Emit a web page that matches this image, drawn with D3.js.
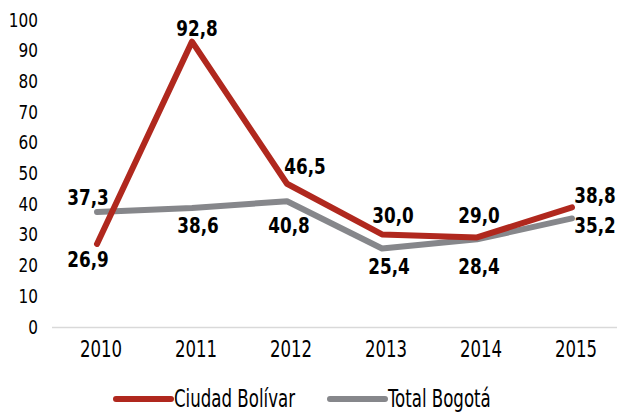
<!DOCTYPE html>
<html>
<head>
<meta charset="utf-8">
<script src="https://cdn.jsdelivr.net/npm/d3@7"></script>
<style>
  body { margin: 0; background: #fff; }
  svg text { font-family: "DejaVu Sans Condensed", "DejaVu Sans", sans-serif; font-stretch: condensed; fill: #000; }
</style>
</head>
<body>
<svg id="chart" width="626" height="413"></svg>
<script>
const years = ["2010", "2011", "2012", "2013", "2014", "2015"];
const ciudadBolivar = [26.9, 92.8, 46.5, 30.0, 29.0, 38.8];
const totalBogota = [37.3, 38.6, 40.8, 25.4, 28.4, 35.2];
const yTicks = [0, 10, 20, 30, 40, 50, 60, 70, 80, 90, 100];

// label placement offsets (px) around each point
const redOffsets = [[-9, 15.5], [5, -13], [18, -17], [11, -19], [2, -22], [23, -12]];
const grayOffsets = [[-9, -14.5], [6, 17], [2, 24], [7, 17.5], [2, 27], [23, 7]];

const red = "#b0281e", gray = "#86878b";
const svg = d3.select("#chart");

let x = d3.scalePoint().domain(years).range([97, 572]);
let y = d3.scaleLinear().domain([0, 100]).range([326.5, 19.5]);

// squeeze glyphs horizontally to mimic a condensed face
function squeeze(sel, k) {
  sel.each(function () {
    let w = this.getComputedTextLength();
    d3.select(this).attr("textLength", w * k).attr("lengthAdjust", "spacingAndGlyphs");
  });
}

// baseline
svg.append("line")
  .attr("x1", 52).attr("x2", 617)
  .attr("y1", 327.5).attr("y2", 327.5)
  .attr("stroke", "#d9d9d9").attr("stroke-width", 1.5);

// y tick labels
svg.selectAll(".ytick")
  .data(yTicks)
  .join("text")
  .attr("class", "ytick")
  .attr("x", 38)
  .attr("y", d => y(d))
  .attr("dy", "0.35em")
  .attr("text-anchor", "end")
  .style("font-size", "20px")
  .text(d => d)
  .call(squeeze, 0.85);

// x tick labels
svg.selectAll(".xtick")
  .data(years)
  .join("text")
  .attr("class", "xtick")
  .attr("x", d => x(d) + 4)
  .attr("y", 349)
  .attr("dy", "0.35em")
  .attr("text-anchor", "middle")
  .style("font-size", "23px")
  .text(d => d)
  .call(squeeze, 0.8);

let line = d3.line()
  .x((d, i) => x(years[i]))
  .y(d => y(d));

svg.append("path")
  .datum(totalBogota)
  .attr("d", line)
  .attr("fill", "none")
  .attr("stroke", gray)
  .attr("stroke-width", 6)
  .attr("stroke-linejoin", "round")
  .attr("stroke-linecap", "round");

svg.append("path")
  .datum(ciudadBolivar)
  .attr("d", line)
  .attr("fill", "none")
  .attr("stroke", red)
  .attr("stroke-width", 6)
  .attr("stroke-linejoin", "round")
  .attr("stroke-linecap", "round");

const fmt = v => v.toFixed(1).replace(".", ",");

function labels(values, offsets, cls) {
  svg.selectAll("." + cls)
    .data(values)
    .join("text")
    .attr("class", cls)
    .attr("x", (d, i) => x(years[i]) + offsets[i][0])
    .attr("y", (d, i) => y(d) + offsets[i][1])
    .attr("dy", "0.35em")
    .attr("text-anchor", "middle")
    .style("font-size", "22px")
    .style("font-weight", "bold")
    .text(fmt)
    .call(squeeze, 0.85);
}
labels(ciudadBolivar, redOffsets, "lab-red");
labels(totalBogota, grayOffsets, "lab-gray");

// legend
const legend = [
  { name: "Ciudad Bolívar", color: red, x: 116 },
  { name: "Total Bogotá", color: gray, x: 330 }
];
let lg = svg.selectAll(".legend")
  .data(legend)
  .join("g")
  .attr("class", "legend")
  .attr("transform", d => `translate(${d.x}, 399)`);
lg.append("line")
  .attr("x1", 0).attr("x2", 55)
  .attr("stroke", d => d.color)
  .attr("stroke-width", 6)
  .attr("stroke-linecap", "round");
lg.append("text")
  .attr("x", 58)
  .attr("dy", "0.35em")
  .style("font-size", "24px")
  .text(d => d.name)
  .call(squeeze, 0.77);
</script>
</body>
</html>
